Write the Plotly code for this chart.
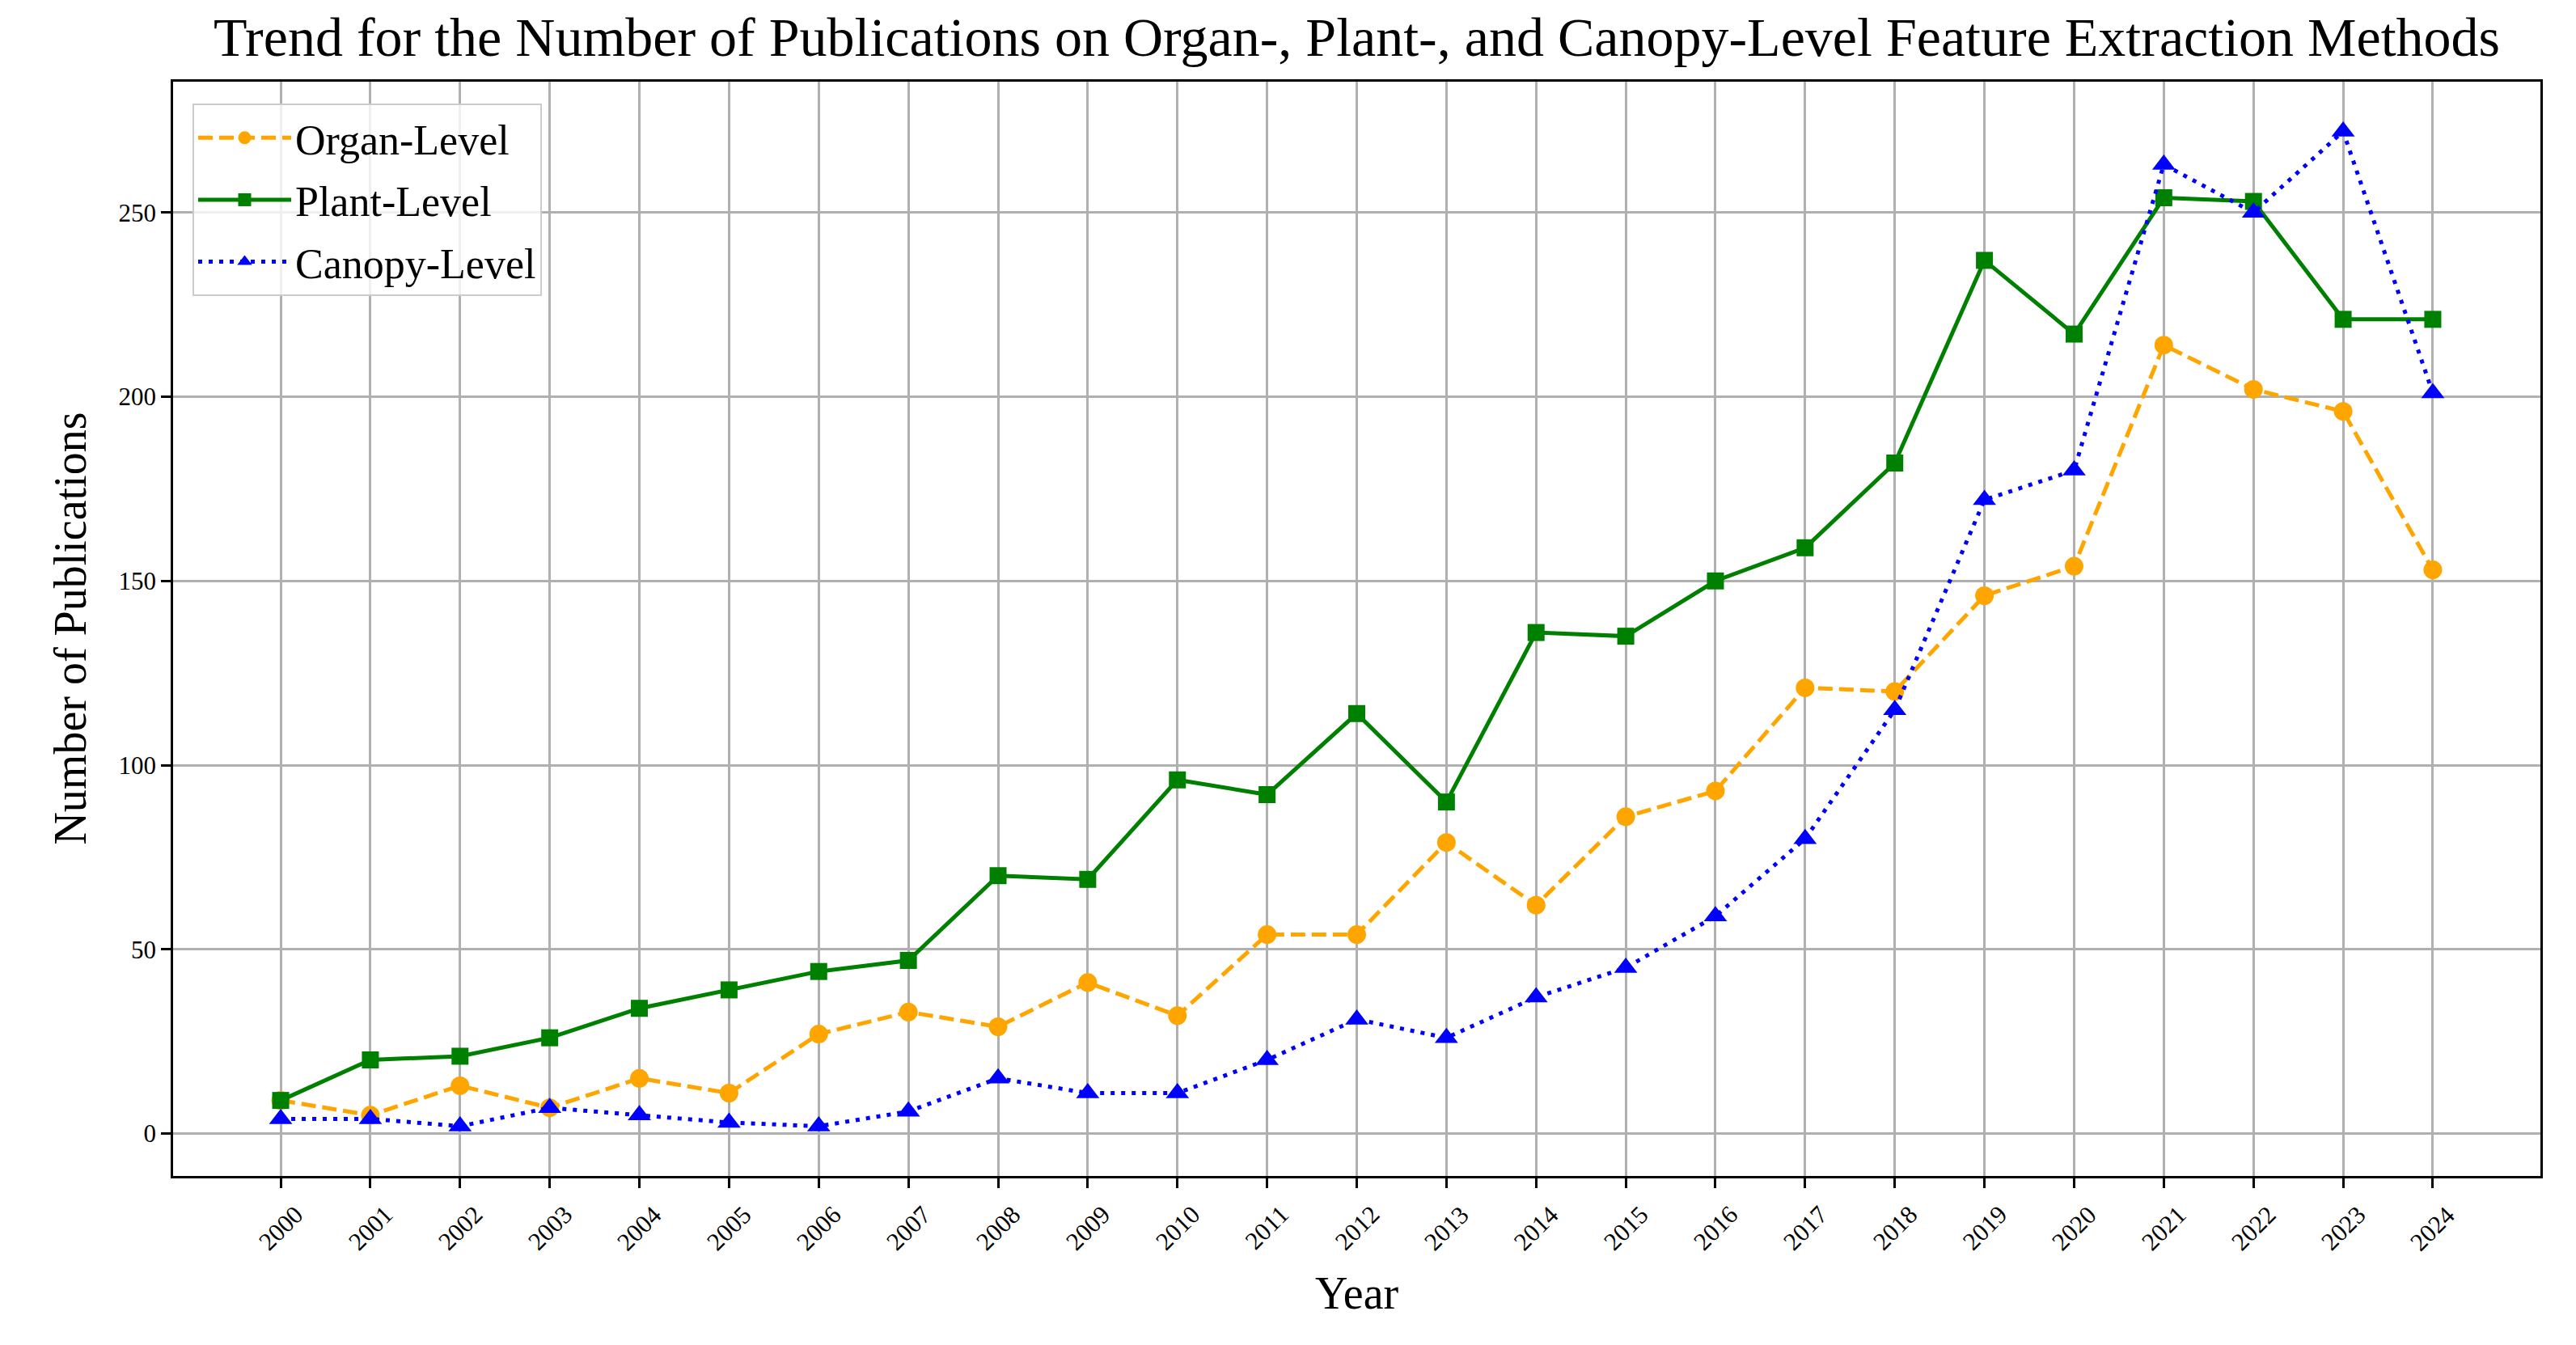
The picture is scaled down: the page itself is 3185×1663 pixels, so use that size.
import plotly.graph_objects as go

years = list(range(2000, 2025))
organ = [9, 5, 13, 7, 15, 11, 27, 33, 29, 41, 32, 54, 54, 79, 62, 86, 93, 121, 120, 146, 154, 214, 202, 196, 153]
plant = [9, 20, 21, 26, 34, 39, 44, 47, 70, 69, 96, 92, 114, 90, 136, 135, 150, 159, 182, 237, 217, 254, 253, 221, 221]
canopy = [4, 4, 2, 7, 5, 3, 2, 6, 15, 11, 11, 20, 31, 26, 37, 45, 59, 80, 115, 172, 180, 263, 250, 272, 201]
year_labels = [str(y) for y in years]
y_ticks = [0, 50, 100, 150, 200, 250]

FONT = "Liberation Serif"

fig = go.Figure()
fig.add_trace(go.Scatter(x=years, y=organ, name="Organ-Level", mode="lines+markers", legendgroup="a",
                         line=dict(color="orange", width=5, dash="18px,8px"),
                         marker=dict(symbol="circle", size=23, color="orange")))
fig.add_trace(go.Scatter(x=years, y=plant, name="Plant-Level", mode="lines+markers", legendgroup="b",
                         line=dict(color="green", width=5),
                         marker=dict(symbol="square", size=21, color="green")))
fig.add_trace(go.Scatter(x=years, y=canopy, name="Canopy-Level", mode="lines+markers", legendgroup="c",
                         line=dict(color="blue", width=5, dash="5px,8px"),
                         marker=dict(symbol="triangle-up", size=25, color="blue")))

# rotated year labels, centred under each tick like matplotlib does
for yr, lab in zip(years, year_labels):
    fig.add_annotation(x=yr, y=-0.02, xref="x", yref="paper", text=lab, showarrow=False,
                       textangle=-45, xanchor="center", yanchor="top",
                       font=dict(family=FONT, size=31, color="black"))

fig.add_annotation(x=0.5, y=-0.083, xref="paper", yref="paper", text="Year", showarrow=False,
                   xanchor="center", yanchor="top", font=dict(family=FONT, size=56, color="black"))
fig.add_annotation(x=-0.0437, y=0.5, xref="paper", yref="paper", text="Number of Publications",
                   showarrow=False, textangle=-90, xanchor="center", yanchor="middle",
                   font=dict(family=FONT, size=56, color="black"))

fig.update_layout(
    width=3185, height=1663,
    paper_bgcolor="white", plot_bgcolor="white",
    margin=dict(l=206, r=52, t=93, b=217),
    title=dict(text="Trend for the Number of Publications on Organ-, Plant-, and Canopy-Level Feature Extraction Methods",
               x=0.5, xref="paper", xanchor="center", y=0.992, yanchor="top",
               font=dict(family=FONT, size=68, color="black")),
    font=dict(family=FONT, color="black"),
    legend=dict(x=0.0082, y=0.980, xanchor="left", yanchor="top",
                bgcolor="rgba(255,255,255,0.8)", bordercolor="#cccccc", borderwidth=2,
                font=dict(family=FONT, size=52, color="black"), itemwidth=115,
                tracegroupgap=6),
    showlegend=True,
)
fig.update_xaxes(range=[1998.8, 2025.2], tickvals=years, showticklabels=False,
                 ticks="outside", ticklen=12, tickwidth=2.5, tickcolor="black",
                 showgrid=True, gridcolor="#b0b0b0", gridwidth=2.5, zeroline=False,
                 showline=True, linecolor="black", linewidth=2.5, mirror=True)
fig.update_yaxes(range=[-11.5, 285.5], tickvals=y_ticks,
                 ticks="outside", ticklen=12, tickwidth=2.5, tickcolor="black",
                 tickfont=dict(family=FONT, size=31, color="black"),
                 showgrid=True, gridcolor="#b0b0b0", gridwidth=2.5, zeroline=False,
                 showline=True, linecolor="black", linewidth=2.5, mirror=True)

fig.write_html("out.html")
